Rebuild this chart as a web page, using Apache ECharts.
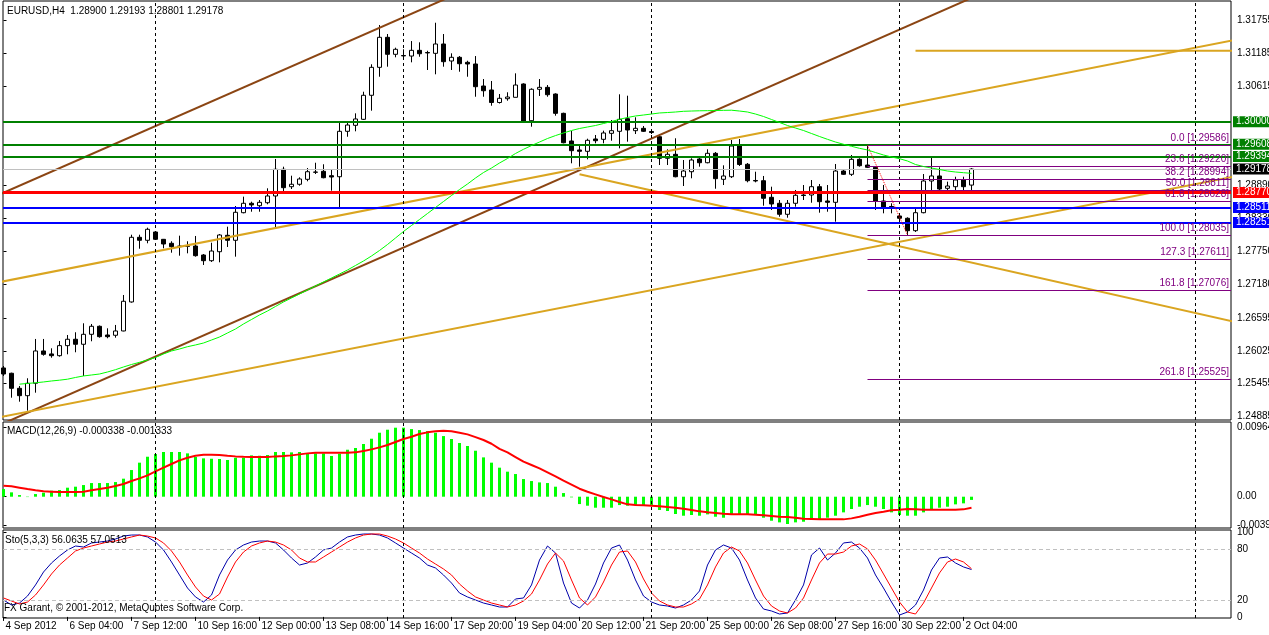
<!DOCTYPE html>
<html>
<head>
<meta charset="utf-8">
<title>EURUSD,H4</title>
<script src="https://cdn.jsdelivr.net/npm/echarts@6/dist/echarts.min.js"></script>
<style>
  html, body { margin: 0; padding: 0; background: #fff; }
  #chart { width: 1269px; height: 635px; }
</style>
</head>
<body>
<div id="chart"></div>
<script>
'use strict';

// H4 bars, bar 0 = 4 Sep 20:00 ... bar 121 = 2 Oct 08:00
var open = [
  1.25727, 1.25635, 1.25374, 1.25246, 1.25461, 1.26022, 1.25970, 1.25940, 1.26114, 1.26225,
  1.26138, 1.26311, 1.26450, 1.26299, 1.26294, 1.26369, 1.26872, 1.27994, 1.27942, 1.28086,
  1.27959, 1.27890, 1.27843, 1.27843, 1.27843, 1.27687, 1.27588, 1.27744, 1.28029, 1.27942,
  1.28421, 1.28584, 1.28542, 1.28594, 1.28711, 1.29174, 1.28872, 1.28914, 1.29000, 1.29122,
  1.29139, 1.29063, 1.29045, 1.29833, 1.29937, 1.30041, 1.30458, 1.30943, 1.31464, 1.31169,
  1.31148, 1.31139, 1.31238, 1.31200, 1.31186, 1.31348, 1.31053, 1.31117, 1.31030, 1.31001,
  1.30619, 1.30550, 1.30333, 1.30399, 1.30423, 1.30654, 1.30017, 1.30562, 1.30596, 1.30480,
  1.30145, 1.29665, 1.29509, 1.29486, 1.29700, 1.29694, 1.29798, 1.29833, 1.30052, 1.29844,
  1.29885, 1.29830, 1.29739, 1.29365, 1.29434, 1.29045, 1.29132, 1.29353, 1.29288, 1.29451,
  1.29000, 1.29045, 1.29578, 1.29261, 1.28980, 1.28976, 1.28688, 1.28584, 1.28393, 1.28584,
  1.28728, 1.28728, 1.28872, 1.28624, 1.28601, 1.29144, 1.29087, 1.29347, 1.29248, 1.29208,
  1.28624, 1.28529, 1.28364, 1.28324, 1.28109, 1.28421, 1.28971, 1.29058, 1.28844, 1.28872,
  1.28988, 1.28900
];
var high = [
  1.25761, 1.25645, 1.25414, 1.25548, 1.26230, 1.26230, 1.26068, 1.26195, 1.26299, 1.26346,
  1.26502, 1.26490, 1.26464, 1.26415, 1.26473, 1.26993, 1.28039, 1.28039, 1.28161, 1.28103,
  1.27965, 1.27925, 1.28022, 1.27925, 1.28017, 1.27704, 1.27900, 1.28051, 1.28178, 1.28537,
  1.28699, 1.28612, 1.28641, 1.28844, 1.29353, 1.29219, 1.29063, 1.29035, 1.29196, 1.29288,
  1.29261, 1.29174, 1.29982, 1.29989, 1.30145, 1.30520, 1.30996, 1.31677, 1.31521, 1.31284,
  1.31256, 1.31399, 1.31377, 1.31231, 1.31717, 1.31521, 1.31186, 1.31139, 1.31058, 1.31139,
  1.30740, 1.30706, 1.30480, 1.30510, 1.30839, 1.30666, 1.30579, 1.30740, 1.30636, 1.30492,
  1.30156, 1.29838, 1.29578, 1.29705, 1.29769, 1.29844, 1.30029, 1.30475, 1.30451, 1.30076,
  1.29925, 1.29873, 1.29786, 1.29521, 1.29712, 1.29335, 1.29365, 1.29370, 1.29521, 1.29474,
  1.29243, 1.29682, 1.29700, 1.29283, 1.29132, 1.29058, 1.28872, 1.28641, 1.28641, 1.28815,
  1.28901, 1.28988, 1.28919, 1.28901, 1.29266, 1.29162, 1.29422, 1.29365, 1.29586, 1.29231,
  1.28901, 1.28584, 1.28410, 1.28341, 1.28485, 1.29092, 1.29382, 1.29208, 1.28959, 1.29045,
  1.29045, 1.29193
];
var low = [
  1.25588, 1.25211, 1.25142, 1.24986, 1.25298, 1.25940, 1.25905, 1.25923, 1.25964, 1.25999,
  1.25588, 1.26190, 1.26252, 1.26242, 1.26252, 1.26363, 1.26860, 1.27796, 1.27890, 1.27947,
  1.27803, 1.27727, 1.27675, 1.27716, 1.27658, 1.27514, 1.27566, 1.27560, 1.27826, 1.27658,
  1.28410, 1.28438, 1.28438, 1.28567, 1.28150, 1.28768, 1.28832, 1.28889, 1.28966, 1.29092,
  1.29018, 1.28803, 1.28515, 1.29739, 1.29833, 1.30029, 1.30191, 1.30780, 1.30954, 1.31117,
  1.31087, 1.31030, 1.31127, 1.30897, 1.30822, 1.30954, 1.30897, 1.30867, 1.30780, 1.30433,
  1.30433, 1.30277, 1.30315, 1.30364, 1.30423, 1.29994, 1.29913, 1.30446, 1.30433, 1.30104,
  1.29625, 1.29278, 1.29219, 1.29347, 1.29625, 1.29625, 1.29670, 1.29538, 1.29653, 1.29786,
  1.29821, 1.29786, 1.29248, 1.29248, 1.29035, 1.28884, 1.29018, 1.29219, 1.29278, 1.28837,
  1.28901, 1.29023, 1.29231, 1.28948, 1.28948, 1.28542, 1.28468, 1.28351, 1.28334, 1.28525,
  1.28641, 1.28594, 1.28421, 1.28438, 1.28265, 1.29075, 1.29058, 1.29219, 1.29196, 1.28468,
  1.28410, 1.28410, 1.28312, 1.28035, 1.28086, 1.28410, 1.28785, 1.28757, 1.28785, 1.28815,
  1.28785, 1.28801
];
var close = [
  1.25622, 1.25374, 1.25246, 1.25461, 1.26022, 1.25964, 1.25940, 1.26114, 1.26225, 1.26138,
  1.26311, 1.26450, 1.26270, 1.26270, 1.26369, 1.26884, 1.27994, 1.27942, 1.28133, 1.27959,
  1.27878, 1.27831, 1.27831, 1.27838, 1.27675, 1.27588, 1.27756, 1.28034, 1.27942, 1.28428,
  1.28584, 1.28555, 1.28601, 1.28711, 1.29174, 1.28855, 1.28914, 1.29006, 1.29132, 1.29127,
  1.29028, 1.29040, 1.29833, 1.29942, 1.30047, 1.30458, 1.30943, 1.31464, 1.31169, 1.31256,
  1.31141, 1.31238, 1.31179, 1.31193, 1.31348, 1.31041, 1.31117, 1.31006, 1.31001, 1.30607,
  1.30537, 1.30333, 1.30406, 1.30428, 1.30636, 1.30012, 1.30562, 1.30596, 1.30468, 1.30145,
  1.29635, 1.29497, 1.29486, 1.29677, 1.29670, 1.29804, 1.29844, 1.30041, 1.29856, 1.29885,
  1.29833, 1.29812, 1.29365, 1.29434, 1.29045, 1.29144, 1.29335, 1.29288, 1.29451, 1.29011,
  1.29058, 1.29578, 1.29257, 1.28976, 1.28971, 1.28671, 1.28572, 1.28393, 1.28584, 1.28723,
  1.28719, 1.28872, 1.28612, 1.28601, 1.29144, 1.29087, 1.29347, 1.29236, 1.29208, 1.28624,
  1.28515, 1.28520, 1.28324, 1.28109, 1.28421, 1.28971, 1.29058, 1.28832, 1.28884, 1.28988,
  1.28872, 1.29178
];

// moving average, first value belongs to bar 2
var MA_START = 2;
var ma = [
  1.25446, 1.25458, 1.25470, 1.25484, 1.25501, 1.25515, 1.25532, 1.25562, 1.25588, 1.25605,
  1.25622, 1.25657, 1.25697, 1.25744, 1.25787, 1.25825, 1.25865, 1.25909, 1.25970, 1.26022,
  1.26056, 1.26096, 1.26126, 1.26160, 1.26212, 1.26264, 1.26334, 1.26403, 1.26490, 1.26568,
  1.26646, 1.26715, 1.26794, 1.26872, 1.26941, 1.27010, 1.27080, 1.27149, 1.27219, 1.27288,
  1.27357, 1.27427, 1.27505, 1.27583, 1.27670, 1.27765, 1.27869, 1.27982, 1.28095, 1.28199,
  1.28303, 1.28407, 1.28511, 1.28615, 1.28719, 1.28823, 1.28919, 1.29023, 1.29118, 1.29196,
  1.29283, 1.29361, 1.29448, 1.29521, 1.29586, 1.29647, 1.29708, 1.29759, 1.29804, 1.29847,
  1.29882, 1.29908, 1.29934, 1.29968, 1.30003, 1.30041, 1.30073, 1.30099, 1.30116, 1.30133,
  1.30151, 1.30159, 1.30168, 1.30180, 1.30185, 1.30189, 1.30191, 1.30194, 1.30197, 1.30199,
  1.30185, 1.30168, 1.30133, 1.30090, 1.30038, 1.29986, 1.29934, 1.29890, 1.29847, 1.29795,
  1.29743, 1.29694, 1.29647, 1.29608, 1.29573, 1.29538, 1.29509, 1.29465, 1.29422, 1.29387,
  1.29358, 1.29318, 1.29257, 1.29222, 1.29196, 1.29170, 1.29144, 1.29127, 1.29115, 1.29104
];

var macdHist = [
  0.00107, 0.00061, 0.00023, -0.00005, 0.00037, 0.00056, 0.00084, 0.00093, 0.00126, 0.00140,
  0.00163, 0.00191, 0.00191, 0.00191, 0.00205, 0.00252, 0.00373, 0.00476, 0.00559, 0.00597,
  0.00625, 0.00625, 0.00625, 0.00606, 0.00555, 0.00536, 0.00531, 0.00527, 0.00513, 0.00545,
  0.00545, 0.00578, 0.00573, 0.00583, 0.00625, 0.00625, 0.00620, 0.00625, 0.00606, 0.00606,
  0.00606, 0.00569, 0.00601, 0.00657, 0.00681, 0.00737, 0.00811, 0.00895, 0.00937, 0.00965,
  0.00965, 0.00946, 0.00932, 0.00918, 0.00895, 0.00848, 0.00807, 0.00751, 0.00709, 0.00643,
  0.00550, 0.00476, 0.00406, 0.00350, 0.00317, 0.00247, 0.00219, 0.00200, 0.00191, 0.00140,
  0.00051, -0.00009, -0.00103, -0.00126, -0.00154, -0.00154, -0.00154, -0.00117, -0.00126, -0.00117,
  -0.00117, -0.00126, -0.00186, -0.00200, -0.00242, -0.00266, -0.00256, -0.00266, -0.00247, -0.00280,
  -0.00294, -0.00247, -0.00256, -0.00247, -0.00256, -0.00294, -0.00336, -0.00359, -0.00382, -0.00359,
  -0.00350, -0.00312, -0.00312, -0.00294, -0.00266, -0.00219, -0.00172, -0.00140, -0.00117, -0.00140,
  -0.00172, -0.00219, -0.00256, -0.00266, -0.00266, -0.00219, -0.00172, -0.00154, -0.00140, -0.00107,
  -0.00093, -0.00045
];
var macdSignal = [
  0.00154, 0.00145, 0.00126, 0.00107, 0.00089, 0.00075, 0.00070, 0.00065, 0.00065, 0.00065,
  0.00070, 0.00089, 0.00107, 0.00126, 0.00149, 0.00177, 0.00219, 0.00256, 0.00298, 0.00354,
  0.00406, 0.00457, 0.00508, 0.00545, 0.00573, 0.00587, 0.00587, 0.00583, 0.00573, 0.00564,
  0.00559, 0.00555, 0.00555, 0.00555, 0.00564, 0.00569, 0.00578, 0.00592, 0.00606, 0.00615,
  0.00615, 0.00615, 0.00615, 0.00615, 0.00620, 0.00639, 0.00662, 0.00690, 0.00723, 0.00765,
  0.00807, 0.00839, 0.00876, 0.00900, 0.00914, 0.00923, 0.00914, 0.00895, 0.00872, 0.00834,
  0.00793, 0.00741, 0.00670, 0.00620, 0.00555, 0.00490, 0.00443, 0.00396, 0.00340, 0.00284,
  0.00224, 0.00168, 0.00112, 0.00070, 0.00033, -0.00005, -0.00037, -0.00075, -0.00107, -0.00117,
  -0.00121, -0.00126, -0.00135, -0.00145, -0.00154, -0.00168, -0.00186, -0.00205, -0.00219, -0.00228,
  -0.00238, -0.00247, -0.00247, -0.00247, -0.00252, -0.00261, -0.00270, -0.00280, -0.00284, -0.00294,
  -0.00308, -0.00312, -0.00317, -0.00317, -0.00317, -0.00317, -0.00303, -0.00280, -0.00252, -0.00228,
  -0.00210, -0.00191, -0.00182, -0.00172, -0.00177, -0.00182, -0.00182, -0.00182, -0.00182, -0.00182,
  -0.00177, -0.00154
];

var stochK = [
  20.0, 14.1, 16.4, 24.7, 37.8, 53.1, 63.8, 72.1, 79.2, 83.9,
  82.7, 87.5, 88.6, 89.8, 92.2, 95.7, 96.9, 96.9, 94.6, 88.6,
  79.2, 65.0, 49.6, 34.2, 23.6, 17.6, 25.9, 49.6, 67.3, 79.2,
  85.1, 88.6, 89.8, 89.8, 87.5, 79.2, 69.7, 61.4, 63.8, 70.9,
  79.2, 81.5, 88.6, 94.6, 96.9, 98.1, 98.1, 96.9, 93.4, 87.5,
  81.5, 75.6, 69.7, 61.4, 57.9, 49.6, 40.1, 28.3, 23.6, 20.0,
  16.4, 14.1, 11.7, 11.7, 21.2, 22.4, 37.8, 67.3, 83.9, 75.6,
  40.1, 16.4, 10.5, 20.0, 38.9, 63.8, 81.5, 85.1, 67.3, 43.7,
  24.7, 17.6, 14.1, 12.9, 10.5, 14.1, 20.0, 30.7, 61.4, 79.2,
  85.1, 81.5, 67.3, 43.7, 22.4, 9.3, 7.0, 3.4, 4.6, 20.0,
  37.8, 73.3, 81.5, 67.3, 75.6, 87.5, 88.6, 81.5, 69.7, 49.6,
  34.2, 17.6, 2.2, 5.8, 14.1, 31.8, 55.5, 69.7, 70.9, 63.8,
  59.1, 56.06
];
var stochD = [
  22.4, 18.8, 15.3, 17.6, 25.9, 37.8, 50.8, 61.4, 69.7, 78.0,
  81.5, 83.9, 86.3, 88.6, 89.8, 92.2, 94.6, 96.9, 95.7, 93.4,
  87.5, 78.0, 65.0, 49.6, 35.4, 24.7, 20.0, 27.1, 47.2, 65.0,
  76.8, 83.9, 87.5, 89.8, 88.6, 85.1, 79.2, 69.7, 65.0, 65.0,
  70.9, 76.8, 82.7, 88.6, 93.4, 96.9, 98.1, 98.1, 95.7, 92.2,
  87.5, 81.5, 75.6, 68.5, 62.6, 56.7, 49.6, 38.9, 30.7, 23.6,
  20.0, 16.4, 14.1, 11.7, 14.1, 18.8, 27.1, 43.7, 62.6, 75.6,
  66.2, 43.7, 22.4, 14.1, 23.6, 41.3, 61.4, 76.8, 78.0, 65.0,
  44.9, 28.3, 18.8, 14.1, 11.7, 11.7, 15.3, 21.2, 37.8, 59.1,
  75.6, 82.7, 78.0, 63.8, 43.7, 24.7, 12.9, 7.0, 4.6, 10.5,
  22.4, 43.7, 63.8, 74.4, 74.4, 76.8, 83.9, 86.3, 80.4, 67.3,
  50.8, 34.2, 17.6, 5.8, 3.4, 16.4, 34.2, 52.0, 65.0, 68.5,
  65.0, 57.05
];

// time axis labels (bar index -> text)
var tickBars = [0, 8, 16, 24, 32, 40, 48, 56, 64, 72, 80, 88, 96, 104, 112, 120];
var tickLabels = ['4 Sep 2012', '6 Sep 04:00', '7 Sep 12:00', '10 Sep 16:00', '12 Sep 00:00',
  '13 Sep 08:00', '14 Sep 16:00', '17 Sep 20:00', '19 Sep 04:00', '20 Sep 12:00',
  '21 Sep 20:00', '25 Sep 00:00', '26 Sep 08:00', '27 Sep 16:00', '30 Sep 22:00', '2 Oct 04:00'];
var weekBars = [19, 50, 81, 112, 149];

var priceTicks = [1.31755, 1.31185, 1.30615, 1.28890, 1.28330, 1.27750, 1.27180,
  1.26595, 1.26025, 1.25455, 1.24885];
var macdTicks = [0.009649, 0, -0.003966];
var stochTicks = [0, 20, 80, 100];

// horizontal price levels drawn on the chart
var levelPrices = [1.30000, 1.29608, 1.29394, 1.29178, 1.28770, 1.28511, 1.28251];

// fibonacci retracement from bar 108 high to bar 113 low
var fibFrom = [108, 1.29586];
var fibTo = [113, 1.28035];
var fibLevels = ['0.0', '23.6', '38.2', '50.0', '61.8', '100.0', '127.3', '161.8', '261.8'];
var fibPrices = [1.29586, 1.29220, 1.28994, 1.28811, 1.28628, 1.28035, 1.27611, 1.27076, 1.25525];

// trend lines: [bar, price] end points
var brownLines = [
  [[-1, 1.28706], [56, 1.32177]],
  [[0, 1.24766], [125, 1.32391]]
];
var goldLines = [
  [[-1, 1.27203], [154, 1.31419]],
  [[-1, 1.24858], [154, 1.29052]],
  [[72, 1.29087], [154, 1.26525]],
  [[114, 1.31231], [154, 1.31231]]
];

var X_MIN = -0.0625, X_MAX = 153.4375;
var FONT = '"Liberation Sans", Arial, sans-serif';
var FS = 10;

var chart = echarts.init(document.getElementById('chart'));

var bars = open.map(function (o, i) { return [i, o, close[i], low[i], high[i]]; });
var maData = ma.map(function (v, k) { return [k + MA_START, v]; });
var histData = macdHist.map(function (v, i) { return [i, v]; });
var signalData = macdSignal.map(function (v, i) { return [i, v]; });
var kData = stochK.map(function (v, i) { return [i, v]; });
var dData = stochD.map(function (v, i) { return [i, v]; });

function weekLines() {
  return weekBars.map(function (b) {
    return { xAxis: b, lineStyle: { color: '#000', type: [3, 3], width: 1 }, label: { show: false } };
  });
}

var levelStyle = [
  { line: '#008000', box: '#008000', w: 2 },
  { line: '#008000', box: '#008000', w: 2 },
  { line: '#008000', box: '#008000', w: 2 },
  { line: '#c0c0c0', box: '#000000', w: 1 },
  { line: '#ff0000', box: '#ff0000', w: 3 },
  { line: '#0000ff', box: '#0000ff', w: 2 },
  { line: '#0000ff', box: '#0000ff', w: 2 }
];

var priceMarks = weekLines();
levelPrices.forEach(function (p, k) {
  priceMarks.push({
    yAxis: p,
    lineStyle: { color: levelStyle[k].line, width: levelStyle[k].w, type: 'solid' },
    label: {
      show: true, position: 'end', distance: 2, formatter: p.toFixed(5),
      color: '#fff', backgroundColor: levelStyle[k].box, padding: [1, 6, 0, 3],
      fontSize: FS, fontFamily: FONT
    }
  });
});
fibPrices.forEach(function (p, k) {
  priceMarks.push([
    {
      coord: [fibFrom[0], p],
      lineStyle: { color: '#800080', width: 1, type: 'solid' },
      label: {
        show: true, position: 'insideEndTop', distance: 2,
        formatter: fibLevels[k] + ' [' + p.toFixed(5) + ']',
        color: '#800080', fontSize: FS, fontFamily: FONT
      }
    },
    { coord: [X_MAX, p] }
  ]);
});
priceMarks.push([
  { coord: fibFrom, lineStyle: { color: '#ff0000', width: 1, type: 'dotted' }, label: { show: false } },
  { coord: fibTo }
]);

var series = [
  {
    name: 'EURUSD', type: 'candlestick', xAxisIndex: 0, yAxisIndex: 0,
    data: bars, encode: { x: 0, y: [1, 2, 3, 4] }, barWidth: 5,
    itemStyle: { color: '#fff', color0: '#000', borderColor: '#000', borderColor0: '#000', borderWidth: 1 }
  }
];
brownLines.forEach(function (l) {
  series.push({ type: 'line', xAxisIndex: 0, yAxisIndex: 0, data: l, symbol: 'none',
    lineStyle: { color: '#8b4513', width: 2 } });
});
goldLines.forEach(function (l) {
  series.push({ type: 'line', xAxisIndex: 0, yAxisIndex: 0, data: l, symbol: 'none',
    lineStyle: { color: '#daa520', width: 2 } });
});
series.push(
  {
    name: 'MA', type: 'line', xAxisIndex: 0, yAxisIndex: 0, data: maData, z: 5,
    symbol: 'none', lineStyle: { color: '#00ff00', width: 1 },
    markLine: { symbol: ['none', 'none'], precision: 5, silent: true, animation: false, data: priceMarks }
  },
  {
    name: 'MACD', type: 'bar', xAxisIndex: 1, yAxisIndex: 1, data: histData,
    barWidth: 3, itemStyle: { color: '#00ff00' }
  },
  {
    name: 'Signal', type: 'line', xAxisIndex: 1, yAxisIndex: 1, data: signalData,
    symbol: 'none', lineStyle: { color: '#ff0000', width: 2 },
    markLine: { symbol: ['none', 'none'], precision: 5, silent: true, animation: false, data: weekLines() }
  },
  {
    name: '%K', type: 'line', xAxisIndex: 2, yAxisIndex: 2, data: kData,
    symbol: 'none', lineStyle: { color: '#0000aa', width: 1 },
    markLine: {
      symbol: ['none', 'none'], precision: 5, silent: true, animation: false,
      data: weekLines().concat([20, 80].map(function (v) {
        return { yAxis: v, lineStyle: { color: '#c0c0c0', type: [4, 3], width: 1 }, label: { show: false } };
      }))
    }
  },
  {
    name: '%D', type: 'line', xAxisIndex: 2, yAxisIndex: 2, data: dData,
    symbol: 'none', lineStyle: { color: '#ff0000', width: 1 }
  }
);

function xAxisFor(idx) {
  var last = idx === 2;
  return {
    type: 'value', gridIndex: idx, min: X_MIN, max: X_MAX, z: 0,
    axisLine: { show: false }, splitLine: { show: false },
    axisTick: { show: last, customValues: tickBars, length: 4, lineStyle: { color: '#000' } },
    axisLabel: {
      show: last, customValues: tickBars, align: 'left', margin: 3, padding: [0, 0, 0, 2],
      color: '#000', fontSize: FS, fontFamily: FONT, hideOverlap: false,
      formatter: function (v) { return tickLabels[tickBars.indexOf(v)] || ''; }
    }
  };
}

function yAxisFor(idx, min, max, ticks, fmt) {
  return {
    type: 'value', gridIndex: idx, position: 'right', min: min, max: max, scale: true, z: 0,
    axisLine: { show: false }, splitLine: { show: false },
    axisTick: { show: true, customValues: ticks, length: 3, lineStyle: { color: '#000' } },
    axisLabel: { customValues: ticks, margin: 6, color: '#000', fontSize: FS, fontFamily: FONT, formatter: fmt }
  };
}

var titleStyle = { fontSize: FS, fontWeight: 'normal', color: '#000', fontFamily: FONT };

function gridAt(top, height) {
  return {
    left: 3, top: top, width: 1228, height: height, show: true,
    borderColor: '#000', borderWidth: 1, containLabel: false, outerBoundsMode: 'none'
  };
}

chart.setOption({
  animation: false,
  backgroundColor: '#fff',
  title: [
    { text: 'EURUSD,H4  1.28900 1.29193 1.28801 1.29178', left: 7, top: 6, padding: 0, textStyle: titleStyle },
    { text: 'MACD(12,26,9) -0.000338 -0.001333', left: 7, top: 426, padding: 0, textStyle: titleStyle },
    { text: 'Sto(5,3,3) 56.0635 57.0513', left: 5, top: 535, padding: 0, textStyle: titleStyle },
    { text: 'FX Garant, \u00a9 2001-2012, MetaQuotes Software Corp.', left: 4, top: 603, padding: 0, textStyle: titleStyle }
  ],
  grid: [gridAt(1, 419), gridAt(422, 106), gridAt(530, 88)],
  xAxis: [xAxisFor(0), xAxisFor(1), xAxisFor(2)],
  yAxis: [
    yAxisFor(0, 1.24824, 1.32094, priceTicks, function (v) { return v.toFixed(5); }),
    yAxisFor(1, -0.004377, 0.010448, macdTicks, function (v) { return v === 0 ? '0.00' : v.toFixed(6); }),
    yAxisFor(2, -1.3, 102.84, stochTicks, function (v) { return String(v); })
  ],
  series: series
});
</script>
</body>
</html>
